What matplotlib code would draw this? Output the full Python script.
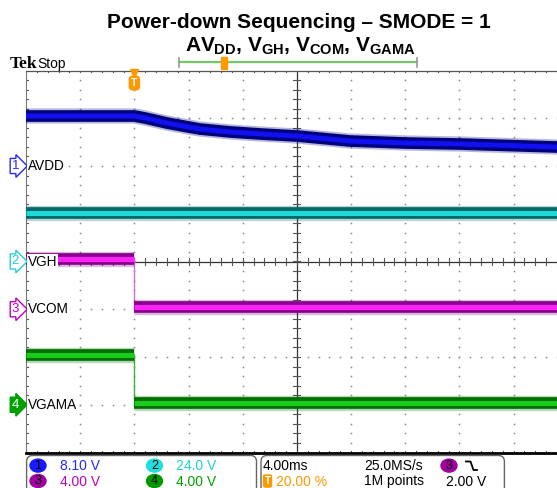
import matplotlib
matplotlib.use('Agg')
import matplotlib.pyplot as plt
import matplotlib.transforms as mtransforms
from matplotlib.patches import FancyBboxPatch, Ellipse, Rectangle
import numpy as np

plt.rcParams['font.family'] = ['Liberation Sans', 'DejaVu Sans']
plt.rcParams['mathtext.fontset'] = 'custom'
plt.rcParams['mathtext.rm'] = 'Liberation Sans:bold'
plt.rcParams['mathtext.it'] = 'Liberation Sans:bold'
plt.rcParams['mathtext.bf'] = 'Liberation Sans:bold'

# scope settings
TIME_DIV = 4.0      # ms / div
TRIG_POS = 0.20     # trigger position in record
ch_names = ['AVDD', 'VGH', 'VCOM', 'VGAMA']
ch_scale = [8.10, 24.0, 4.00, 4.00]     # V / div
ch_offset = [2.0, 0.0, -1.0, -3.0]      # ground marker, div from centre
val_txt = ['8.10 V', '24.0 V', '4.00 V', '4.00 V']

# traces (time in ms from trigger, volts)
t_avdd = [-8, 0, 0.8, 2.4, 4.8, 7.1, 9.3, 12.0, 15.9, 20.0, 24.0, 31.2, 32]
v_avdd = [8.48, 8.48, 8.14, 7.29, 6.28, 5.77, 5.43, 5.09, 4.24, 3.90, 3.73, 3.22, 3.20]
t_vgh = [-8, 32]
v_vgh = [24.6, 24.6]
t_vcom = [-8, 0, 0, 32]
v_vcom = [4.2, 4.2, 0.15, 0.15]
t_vgama = [-8, 0, 0, 32]
v_vgama = [4.2, 4.2, 0.15, 0.15]

traces = [(t_avdd, v_avdd, 0), (t_vgh, v_vgh, 1), (t_vcom, v_vcom, 2), (t_vgama, v_vgama, 3)]

dark = ['#00007a', '#006a6a', '#880088', '#006e00']
core = ['#1010f0', '#20dada', '#ff22ff', '#18cc18']
thin = ['#5050ff', '#60e0e0', '#d070d0', '#40b040']
lbl_col = ['#2828ff', '#20d0d0', '#c000c0', '#00a000']

W, H = 557, 488
fig = plt.figure(figsize=(W / 100, H / 100), dpi=100)
fig.patch.set_facecolor('white')

ax = fig.add_axes([26 / W, (H - 452.5) / H, (W - 26) / W, (452.5 - 70.5) / H])
ax.set_xlim(-5, 4.8)
ax.set_ylim(-4, 4)
ax.set_xticks([])
ax.set_yticks([])
ax.spines['right'].set_visible(False)
ax.spines['top'].set_color('#555555')
ax.spines['top'].set_linewidth(0.9)
ax.spines['left'].set_color('#777777')
ax.spines['left'].set_linewidth(0.8)
ax.spines['bottom'].set_color('black')
ax.spines['bottom'].set_linewidth(2.0)

# graticule
fine_x = np.arange(-5, 5.01, 0.2)
fine_y = np.arange(-4, 4.01, 0.2)
for gx in range(-4, 5):
    if gx == 0:
        continue
    ax.plot(np.full(fine_y.size, gx), fine_y, ls='none', marker='s', ms=1.1, color='#8a8a8a', mew=0)
for gy in range(-3, 4):
    if gy == 0:
        continue
    ax.plot(fine_x, np.full(fine_x.size, gy), ls='none', marker='s', ms=1.1, color='#8a8a8a', mew=0)
ax.axhline(0, color='#333333', lw=0.9)
ax.axvline(0, color='#333333', lw=0.9)
for fx in fine_x:
    ax.plot([fx, fx], [-0.07, 0.07], color='#555555', lw=0.8)
    ax.plot([fx, fx], [3.96, 4.0], color='#555555', lw=0.8)
    ax.plot([fx, fx], [-4.0, -3.96], color='#555555', lw=0.8)
for fy in fine_y:
    ax.plot([-0.065, 0.065], [fy, fy], color='#555555', lw=0.8)
    ax.plot([-5, -4.96], [fy, fy], color='#555555', lw=0.8)


def to_div(t, v, k):
    x = np.asarray(t, float) / TIME_DIV - (5 - 10 * TRIG_POS)
    y = np.asarray(v, float) / ch_scale[k] + ch_offset[k]
    return x, y


def band(xs, ys, k):
    ax.plot(xs, ys, color=dark[k], lw=11, alpha=0.28, solid_capstyle='butt', zorder=3)
    ax.plot(xs, ys, color=dark[k], lw=8.4, solid_capstyle='butt', zorder=4)
    ax.plot(xs, ys, color=core[k], lw=3.6, solid_capstyle='butt', zorder=5)


def draw_trace(t, v, k):
    x, y = to_div(t, v, k)
    run = [0]
    for i in range(len(x) - 1):
        if x[i + 1] == x[i]:
            # fast edge: thin line
            ax.plot(x[i:i + 2], y[i:i + 2], color=thin[k], lw=1.0, zorder=3)
            if len(run) > 1:
                band(x[run], y[run], k)
            run = [i + 1]
        else:
            run.append(i + 1)
    if len(run) > 1:
        band(x[run], y[run], k)


for t, v, k in traces:
    draw_trace(t, v, k)

# overlay in pixel coordinates
ov = fig.add_axes([0, 0, 1, 1], zorder=5)
ov.set_xlim(0, W)
ov.set_ylim(H, 0)
ov.axis('off')
ov.patch.set_alpha(0)

ov.text(299, 28, 'Power-down Sequencing \u2013 SMODE = 1', ha='center', va='baseline',
        fontsize=15, fontweight='bold')
ov.text(300, 51.5, r'$AV_{DD}$, $V_{GH}$, $V_{COM}$, $V_{GAMA}$', ha='center', va='baseline',
        fontsize=15, fontweight='bold')

ov.text(10, 68, 'Tek', family='Liberation Serif', fontweight='bold', fontsize=12.5, va='baseline')
ov.text(37, 68, 'Stop', fontsize=10, va='baseline')

# record bar
ov.plot([179, 417], [62, 62], color='#70cc60', lw=1.6)
ov.plot([179, 179], [57.5, 67], color='#999999', lw=1.2)
ov.plot([417, 417], [57.5, 67], color='#999999', lw=1.2)
ov.add_patch(Rectangle((221, 57), 6, 12, color='#ff9900', zorder=6))

# trigger marker
blend_x = mtransforms.blended_transform_factory(ax.transData, ov.transData)
trig_x = -(5 - 10 * TRIG_POS)
ov.plot([trig_x], [72.5], marker='v', ms=6, color='#ff9900', transform=blend_x, clip_on=False)
ov.text(trig_x, 83, 'T', transform=blend_x, ha='center', va='center', color='white',
        fontsize=7.5, fontweight='bold',
        bbox=dict(boxstyle='round,pad=0.18,rounding_size=0.3', fc='#ff9900', ec='#ff9900'))

# channel ground markers and labels
blend_y = mtransforms.blended_transform_factory(ov.transData, ax.transData)
for k in range(4):
    face = '#00a000' if k == 3 else 'white'
    tc = 'white' if k == 3 else lbl_col[k]
    ov.text(15.5, ch_offset[k], str(k + 1), transform=blend_y, ha='center', va='center',
            fontsize=9.5, color=tc, clip_on=False,
            bbox=dict(boxstyle='rarrow,pad=0.12', fc=face, ec=lbl_col[k], lw=1.0))
    ov.text(28, ch_offset[k], ch_names[k], transform=blend_y, ha='left', va='center',
            fontsize=9.8, color='black', zorder=8,
            bbox=dict(boxstyle='square,pad=0.05', fc='white', ec='none'))

# info boxes
for x0, x1 in [(26.6, 256.5), (261, 504.4)]:
    ov.add_patch(FancyBboxPatch((x0, 455.5), x1 - x0, 45,
                                boxstyle='round,pad=0,rounding_size=6',
                                fc='white', ec='#666666', lw=1.0, clip_on=False))

circ_col = ['#1a1aff', '#20dede', '#a000a0', '#009a00']
circ_pos = [(38, 465.6), (154.5, 465.6), (38, 481), (154.5, 481)]
for k in range(4):
    cx, cy = circ_pos[k]
    ov.add_patch(Ellipse((cx, cy), 16, 13, color=circ_col[k], zorder=6))
    ov.text(cx, cy + 0.5, str(k + 1), ha='center', va='center', fontsize=9, color='black', zorder=7)
    ov.text(cx + 22, cy + 0.5, val_txt[k], ha='left', va='center',
            fontsize=10, color=lbl_col[k])

ov.text(263, 466, '4.00ms', ha='left', va='center', fontsize=10)
ov.text(364, 466, '25.0MS/s', ha='left', va='center', fontsize=10)
ov.add_patch(Ellipse((449, 465.6), 16, 13, color='#a000a0', zorder=6))
ov.text(449, 466.1, '3', ha='center', va='center', fontsize=9, color='black', zorder=7)
ov.plot([466, 470.5, 473.5, 477], [461.5, 461.5, 470, 470], color='black', lw=1.3)
ov.add_patch(FancyBboxPatch((263.5, 475), 8, 12, boxstyle='round,pad=0,rounding_size=1.5',
                            color='#ff9900', zorder=6))
ov.text(267.5, 481.5, 'T', ha='center', va='center', fontsize=7, color='white', fontweight='bold', zorder=7)
ov.text(276, 481.5, '20.00 %', ha='left', va='center', fontsize=10, color='#ff9900')
ov.text(364, 481.5, '1M points', ha='left', va='center', fontsize=10)
ov.text(446, 481.5, '2.00 V', ha='left', va='center', fontsize=10)

fig.savefig('out.png', dpi=100)
